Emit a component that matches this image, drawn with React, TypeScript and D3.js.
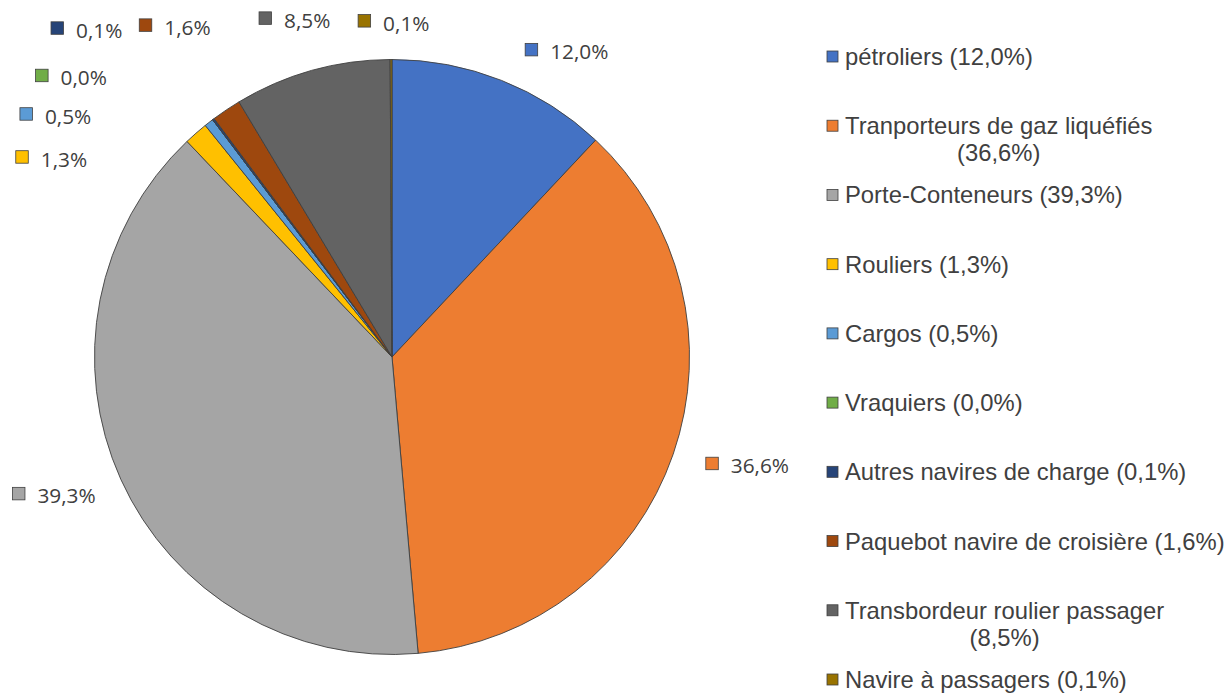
import { useEffect, useRef } from "react";
import * as d3 from "d3";

// Ship categories, clockwise from 12 o'clock
const categories = [
  "pétroliers",
  "Tranporteurs de gaz liquéfiés",
  "Porte-Conteneurs",
  "Rouliers",
  "Cargos",
  "Vraquiers",
  "Autres navires de charge",
  "Paquebot navire de croisière",
  "Transbordeur roulier passager",
  "Navire à passagers",
];

// Share of each category (%)
const shares = [12.0, 36.6, 39.3, 1.3, 0.5, 0.0, 0.1, 1.6, 8.5, 0.1];

const colors = [
  "#4472C4",
  "#ED7D31",
  "#A5A5A5",
  "#FFC000",
  "#5B9BD5",
  "#70AD47",
  "#264478",
  "#9E480E",
  "#636363",
  "#997300",
];

// Data label placement (polar, degrees clockwise from top / px from centre)
const labelAngles = [24.4, 108.4, 249.9, 298.4, 303.6, 308.8, 314.5, 323.4, 339.5, 355.3];
const labelRadii = [337.5, 337.3, 397.5, 420.6, 439.2, 449.3, 469.3, 413.4, 361.8, 337.3];

const WIDTH = 1227;
const HEIGHT = 698;

const fmt = (v: number) => `${v.toFixed(1).replace(".", ",")}%`;

export default function App() {
  const svgRef = useRef<SVGSVGElement>(null);

  useEffect(() => {
    if (!svgRef.current) return;
    const svg = d3.select(svgRef.current);
    svg.selectAll("*").remove();

    const cx = 392;
    const cy = 357;
    const radius = 297.5;
    const textColor = "#404040";

    const g = svg.append("g").attr("transform", `translate(${cx},${cy})`);

    const pie = d3
      .pie<number>()
      .sort(null)
      .value((d) => d);
    const arcs = pie(shares);

    const arc = d3.arc<d3.PieArcDatum<number>>().innerRadius(0).outerRadius(radius);

    g.selectAll("path.slice")
      .data(arcs)
      .enter()
      .append("path")
      .attr("class", "slice")
      .attr("d", arc)
      .attr("fill", (_, i) => colors[i])
      .attr("stroke", "#404040")
      .attr("stroke-width", 0.9)
      .attr("stroke-linejoin", "round");

    // Data labels: legend key + percentage
    const mk = 12.5;
    arcs.forEach((a, i) => {
      const [px, py] = d3.pointRadial((labelAngles[i] * Math.PI) / 180, labelRadii[i]);
      const lg = g.append("g").attr("transform", `translate(${px},${py})`);
      lg.append("rect")
        .attr("x", -mk / 2)
        .attr("y", -mk / 2)
        .attr("width", mk)
        .attr("height", mk)
        .attr("fill", colors[i])
        .attr("stroke", "#404040")
        .attr("stroke-width", 0.8);
      lg.append("text")
        .attr("x", mk / 2 + 12.5)
        .attr("y", 9.8)
        .attr("fill", textColor)
        .attr("font-family", "'Open Sans', sans-serif")
        .attr("font-size", "20.8px")
        .text(fmt(a.data));
    });

    // Legend
    const legendX = 827;
    const textX = 845;
    const maxTextWidth = 386;
    const yScale = d3
      .scaleLinear()
      .domain([0, categories.length - 1])
      .range([65, 688]);

    const legend = svg.append("g");
    categories.forEach((name, i) => {
      const y = yScale(i);
      const item = legend.append("g");
      item
        .append("rect")
        .attr("x", legendX)
        .attr("y", y - 14)
        .attr("width", 11)
        .attr("height", 11)
        .attr("fill", colors[i])
        .attr("stroke", "#404040")
        .attr("stroke-width", 0.8);

      const label = `${name} (${fmt(shares[i])})`;
      const t = item
        .append("text")
        .attr("x", textX)
        .attr("y", y)
        .attr("fill", textColor)
        .attr("font-family", "'Liberation Sans', Arial, sans-serif")
        .attr("font-size", "23.8px")
        .text(label);

      const w = (t.node() as SVGTextElement).getComputedTextLength();
      if (w > maxTextWidth) {
        // wrap the percentage onto a second, centred line
        t.text(name);
        const w1 = (t.node() as SVGTextElement).getComputedTextLength();
        item
          .append("text")
          .attr("x", textX + w1 / 2)
          .attr("y", y + 27)
          .attr("text-anchor", "middle")
          .attr("fill", textColor)
          .attr("font-family", "'Liberation Sans', Arial, sans-serif")
          .attr("font-size", "23.8px")
          .text(`(${fmt(shares[i])})`);
      }
    });
  }, []);

  return (
    <svg
      ref={svgRef}
      width={WIDTH}
      height={HEIGHT}
      viewBox={`0 0 ${WIDTH} ${HEIGHT}`}
      style={{ position: "absolute", left: 0, top: 0, background: "#fff" }}
    />
  );
}
